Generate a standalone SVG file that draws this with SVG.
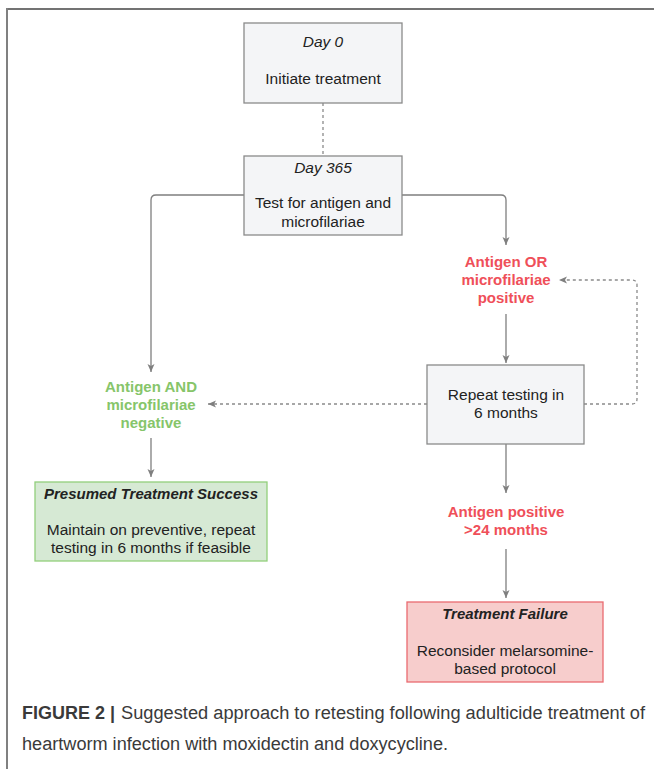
<svg xmlns="http://www.w3.org/2000/svg" width="654" height="769" viewBox="0 0 654 769">
<style>
text{font-family:"Liberation Sans",Arial,Helvetica,sans-serif;text-anchor:middle;fill:#222;font-size:15.5px}
.it{font-style:italic}
.bi{font-style:italic;font-weight:bold;font-size:15px}
.red{fill:#ef4f59;font-weight:bold;font-size:15px}
.grn{fill:#86c56a;font-weight:bold;font-size:15px}
.gbox{fill:#f4f5f7;stroke:#8a8a8a;stroke-width:1.3}
.sbox{fill:#d6e9d4;stroke:#92cf7c;stroke-width:1.3}
.fbox{fill:#f7cdcc;stroke:#ea6a70;stroke-width:1.3}
.c{fill:none;stroke:#7f7f7f;stroke-width:1.3}
.d{fill:none;stroke:#8a8a8a;stroke-width:1.3;stroke-dasharray:3 3}
.cap{text-anchor:start;fill:#3a3a3a;font-size:18px}
</style>
<defs>
<marker id="ah" markerUnits="userSpaceOnUse" markerWidth="10" markerHeight="10" viewBox="0 0 10 10" refX="9" refY="5" orient="auto">
<path d="M1,1.5 L9,5 L1,8.5 L3,5 z" fill="#7f7f7f"/>
</marker>
</defs>
<g id="frame">
<line x1="7" y1="9" x2="654" y2="9" stroke="#444" stroke-width="1.6"/>
<line x1="7" y1="8" x2="7" y2="769" stroke="#808080" stroke-width="2"/>
</g>
<g id="connectors">
<path class="d" d="M323,103 V156"/>
<path class="c" d="M244,195 H156 Q151,195 151,200 V372" marker-end="url(#ah)"/>
<path class="c" d="M402,195 H501 Q506,195 506,200 V245" marker-end="url(#ah)"/>
<path class="c" d="M506,314 V363" marker-end="url(#ah)"/>
<path class="d" d="M427,404 H208" marker-end="url(#ah)"/>
<path class="d" d="M584,404 H632 Q637,404 637,399 V285 Q637,280 632,280 H559" marker-end="url(#ah)"/>
<path class="c" d="M151,438 V477" marker-end="url(#ah)"/>
<path class="c" d="M506,444 V493" marker-end="url(#ah)"/>
<path class="c" d="M506,549 V598" marker-end="url(#ah)"/>
</g>
<g id="day0">
<rect class="gbox" x="244" y="23" width="158" height="80"/>
<text class="it" x="323" y="47">Day 0</text>
<text x="323" y="84">Initiate treatment</text>
</g>
<g id="day365">
<rect class="gbox" x="244" y="156" width="158" height="79"/>
<text class="it" x="323" y="173">Day 365</text>
<text x="323" y="208">Test for antigen and</text>
<text x="323" y="227">microfilariae</text>
</g>
<g id="positive">
<text class="red" x="506" y="267">Antigen OR</text>
<text class="red" x="506" y="285">microfilariae</text>
<text class="red" x="506" y="303">positive</text>
</g>
<g id="repeat">
<rect class="gbox" x="427" y="365" width="157" height="79"/>
<text x="506" y="400">Repeat testing in</text>
<text x="506" y="418">6 months</text>
</g>
<g id="negative">
<text class="grn" x="151" y="392">Antigen AND</text>
<text class="grn" x="151" y="410">microfilariae</text>
<text class="grn" x="151" y="428">negative</text>
</g>
<g id="success">
<rect class="sbox" x="35" y="482" width="232" height="79"/>
<text class="bi" x="151" y="499">Presumed Treatment Success</text>
<text x="151" y="535">Maintain on preventive, repeat</text>
<text x="151" y="553">testing in 6 months if feasible</text>
</g>
<g id="antigen24">
<text class="red" x="506" y="517">Antigen positive</text>
<text class="red" x="506" y="535">&gt;24 months</text>
</g>
<g id="failure">
<rect class="fbox" x="407" y="602" width="196" height="80"/>
<text class="bi" x="505" y="619">Treatment Failure</text>
<text x="505" y="656">Reconsider melarsomine-</text>
<text x="505" y="674">based protocol</text>
</g>
<g id="caption">
<text class="cap" x="22" y="719" font-weight="bold" fill="#333" textLength="93" lengthAdjust="spacingAndGlyphs">FIGURE 2 |</text>
<text class="cap" x="121" y="719" textLength="524" lengthAdjust="spacingAndGlyphs">Suggested approach to retesting following adulticide treatment of</text>
<text class="cap" x="22" y="750" textLength="426" lengthAdjust="spacingAndGlyphs">heartworm infection with moxidectin and doxycycline.</text>
</g>
</svg>
